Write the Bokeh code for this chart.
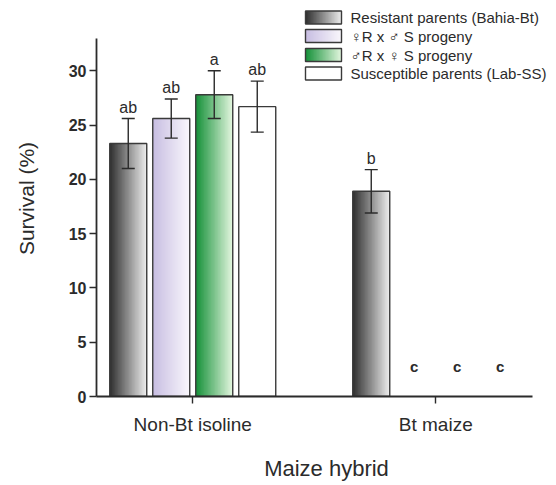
import numpy as np
from bokeh.plotting import figure
from bokeh.models import Range1d, FixedTicker, ColumnDataSource, Whisker, TeeHead
from bokeh.core.properties import value
from bokeh.embed import file_html
from bokeh.resources import INLINE

# ---------------- data ----------------
groups = ["Non-Bt isoline", "Bt maize"]
series = ["Resistant parents (Bahia-Bt)", "\u2640R x \u2642 S progeny",
          "\u2642R x \u2640 S progeny", "Susceptible parents (Lab-SS)"]
survival_nonbt = [23.3, 25.6, 27.8, 26.7]
sem_nonbt = [2.3, 1.8, 2.2, 2.35]
survival_bt = [18.9, 0.0, 0.0, 0.0]
sem_bt = [2.0, 0.0, 0.0, 0.0]
letters_nonbt = ["ab", "ab", "a", "ab"]
letters_bt = ["b", "c", "c", "c"]
y_ticks = [0, 5, 10, 15, 20, 25, 30]

# ---------------- styles ----------------
grad_left = [(48, 48, 48), (200, 190, 226), (22, 145, 58), (255, 255, 255)]
grad_right = [(236, 236, 236), (249, 247, 252), (226, 246, 222), (255, 255, 255)]
FONT = "Liberation Sans"
INK = "#2b2b2b"

# layout (pixels on page)
W, H = 556, 485
FRAME_L, FRAME_R = 96, 556
Y0_PX, Y30_PX = 396, 70.3
PX_PER_Y = (Y0_PX - Y30_PX) / 30.0
PX_PER_X = 243.0
G1_PX = 192.25
x_start = 1 - (G1_PX - FRAME_L) / PX_PER_X
x_end = x_start + (FRAME_R - FRAME_L) / PX_PER_X
y_end = Y0_PX / PX_PER_Y
x_axis_end = 1 + (532 - G1_PX) / PX_PER_X
bar_step = 43 / PX_PER_X
bar_w = 37 / PX_PER_X

def px_x(px):
    return x_start + (px - FRAME_L) / PX_PER_X

def px_y(py):
    return (Y0_PX - py) / PX_PER_Y

def gradient(c0, c1, n=48):
    t = np.linspace(0, 1, n)
    arr = np.zeros((1, n, 4), dtype=np.uint8)
    for k in range(3):
        arr[0, :, k] = np.round(c0[k] + (c1[k] - c0[k]) * t).astype(np.uint8)
    arr[0, :, 3] = 255
    return arr.view(dtype=np.uint32).reshape((1, n))

p = figure(width=W, height=H, output_backend="svg", toolbar_location=None,
           x_range=Range1d(x_start, x_end), y_range=Range1d(0, y_end),
           min_border_left=FRAME_L, min_border_right=W - FRAME_R, min_border_top=0,
           min_border_bottom=H - Y0_PX)
p.outline_line_color = None
p.xgrid.visible = False
p.ygrid.visible = False
p.background_fill_color = "white"

# ---------------- bars ----------------
values = [survival_nonbt, survival_bt]
sems = [sem_nonbt, sem_bt]
letters = [letters_nonbt, letters_bt]
offsets = [(i - 1.5) * bar_step for i in range(len(series))]

img_x, img_y, img_dw, img_dh, imgs = [], [], [], [], []
qx0, qx1, qtop = [], [], []
wx, wup, wlo = [], [], []
tx, ty, tt = [], [], []
cx, cy, ct = [], [], []
for g in range(len(groups)):
    for s in range(len(series)):
        xc = g + 1 + offsets[s]
        v = values[g][s]
        e = sems[g][s]
        if v > 0:
            img_x.append(xc - bar_w / 2); img_y.append(0)
            img_dw.append(bar_w); img_dh.append(v)
            imgs.append(gradient(grad_left[s], grad_right[s]))
            qx0.append(xc - bar_w / 2); qx1.append(xc + bar_w / 2); qtop.append(v)
            wx.append(xc); wup.append(v + e); wlo.append(v - e)
            tx.append(xc); ty.append(v + e); tt.append(letters[g][s])
        else:
            cx.append(xc); cy.append(0.0); ct.append(letters[g][s])

p.image_rgba(image=imgs, x=img_x, y=img_y, dw=img_dw, dh=img_dh)
p.quad(left=qx0, right=qx1, bottom=0, top=qtop, fill_color=None,
       line_color="#3a3a3a", line_width=1.4)

wsrc = ColumnDataSource(dict(x=wx, upper=wup, lower=wlo))
p.add_layout(Whisker(source=wsrc, base="x", upper="upper", lower="lower",
                     level="annotation", line_color=INK, line_width=1.4,
                     upper_head=TeeHead(size=13, line_color=INK, line_width=1.4),
                     lower_head=TeeHead(size=13, line_color=INK, line_width=1.4)))

p.text(x=tx, y=ty, text=tt, text_align="center", text_baseline="bottom",
       y_offset=-3, text_font=value(FONT), text_font_size="16px", text_color=INK)
p.text(x=cx, y=cy, text=ct, text_align="center", text_baseline="middle",
       y_offset=-30, text_font=value(FONT), text_font_size="15px",
       text_font_style="bold", text_color=INK)

# ---------------- legend ----------------
leg_rows = [17, 35.5, 54.5, 73]
lx0, lx1 = px_x(305), px_x(341)
for s, row in enumerate(leg_rows):
    top, bot = px_y(row - 6.5), px_y(row + 6.5)
    p.image_rgba(image=[gradient(grad_left[s], grad_right[s])], x=lx0, y=bot,
                 dw=lx1 - lx0, dh=top - bot)
    p.quad(left=lx0, right=lx1, bottom=bot, top=top, fill_color=None,
           line_color="#3a3a3a", line_width=1.4)
p.text(x=[px_x(350)] * 4, y=[px_y(r) for r in leg_rows], text=series,
       text_align="left", text_baseline="middle",
       text_font=value("Liberation Sans, DejaVu Sans"),
       text_font_size="15px", text_color=INK)

# ---------------- axes ----------------
p.yaxis.bounds = (0, 33)
p.yaxis.ticker = FixedTicker(ticks=y_ticks)
p.yaxis.minor_tick_line_color = None
p.yaxis.major_tick_in = 0
p.yaxis.major_tick_out = 7
p.yaxis.major_label_standoff = 3
p.yaxis.axis_label = "Survival (%)"
p.yaxis.axis_label_standoff = 28
p.yaxis.major_label_text_font_style = "bold"

p.xaxis.bounds = (x_start, x_axis_end)
p.xaxis.ticker = FixedTicker(ticks=[1, 2])
p.xaxis.major_label_overrides = {1: groups[0], 2: groups[1]}
p.xaxis.minor_tick_line_color = None
p.xaxis.major_tick_in = 0
p.xaxis.major_tick_out = 7
p.xaxis.major_label_standoff = 10
p.xaxis.axis_label = "Maize hybrid"
p.xaxis.axis_label_standoff = 18
p.xaxis.axis_label_text_font_size = "22px"
p.xaxis.major_label_text_font_size = "19px"

for ax in (p.xaxis, p.yaxis):
    ax.axis_line_color = INK
    ax.axis_line_width = 1.8
    ax.major_tick_line_color = INK
    ax.major_tick_line_width = 1.4
    ax.major_label_text_font = FONT
    ax.major_label_text_color = INK
    ax.axis_label_text_font = FONT
    ax.axis_label_text_font_style = "normal"
    ax.axis_label_text_color = INK
p.yaxis.major_label_text_font_size = "16px"
p.yaxis.axis_label_text_font_size = "21px"

open("out.html", "w").write(file_html(p, INLINE))
